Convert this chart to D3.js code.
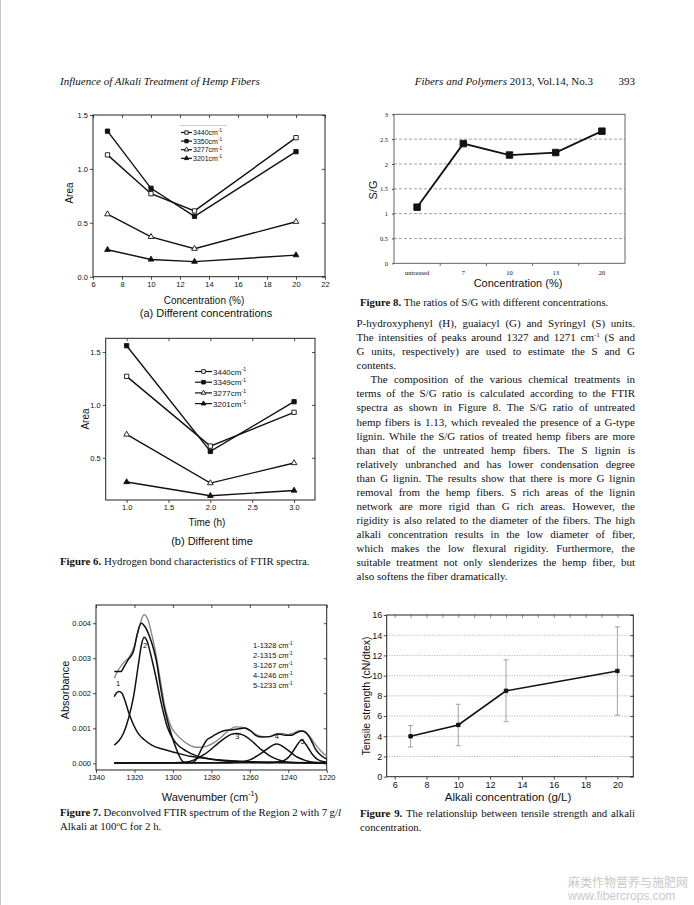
<!DOCTYPE html>
<html><head><meta charset="utf-8">
<script src="https://cdn.jsdelivr.net/npm/d3@7"></script>
<style>body{margin:0;background:#fff}svg{display:block}</style>
</head><body><svg id="page" width="694" height="905"></svg>
<script>
// ---------------- DATA ----------------
const fig6aConc = [7, 10, 13, 20];
const fig6aLegend = ["3440cm", "3350cm", "3277cm", "3201cm"];
const fig6a3440 = [1.13, 0.77, 0.61, 1.29];
const fig6a3350 = [1.35, 0.82, 0.56, 1.16];
const fig6a3277 = [0.58, 0.37, 0.26, 0.51];
const fig6a3201 = [0.25, 0.16, 0.14, 0.20];
const fig6aXTicks = [6, 8, 10, 12, 14, 16, 18, 20, 22];
const fig6aYTicks = [0.0, 0.5, 1.0, 1.5];

const fig6bTime = [1, 2, 3];
const fig6bLegend = ["3440cm", "3349cm", "3277cm", "3201cm"];
const fig6b3440 = [1.27, 0.61, 0.93];
const fig6b3349 = [1.56, 0.56, 1.03];
const fig6b3277 = [0.72, 0.26, 0.45];
const fig6b3201 = [0.27, 0.14, 0.19];
const fig6bXTicks = [1.0, 1.5, 2.0, 2.5, 3.0];
const fig6bYTicks = [0.5, 1.0, 1.5];

// Fig 7: [wavenumber, absorbance]
const fig7Fit = [[1330.5,0.00243],[1328,0.0027],[1325.5,0.00288],[1322.5,0.00305],[1320,0.00335],[1317.5,0.0039],[1315,0.00424],[1313,0.0041],[1311.5,0.0038],[1309.5,0.0033],[1308,0.00285],[1306,0.0022],[1304.5,0.0017],[1302.5,0.00128],[1300.5,0.001],[1298,0.00082],[1295,0.00066],[1292,0.00054],[1288,0.00046],[1285,0.00046],[1282,0.0005],[1279,0.00058],[1275,0.00074],[1271,0.00094],[1267.5,0.00104],[1264,0.00103],[1261,0.00096],[1258,0.00086],[1254,0.00077],[1250,0.00076],[1246.5,0.00084],[1243,0.00085],[1240,0.00082],[1237,0.00087],[1234,0.00093],[1231.5,0.0009],[1229,0.00078],[1226,0.00055],[1223,0.00035],[1220,0.0002]];
const fig7Spectrum = [[1330.5,0.00262],[1327,0.00262],[1325.5,0.00275],[1323,0.00298],[1320.5,0.0032],[1318.5,0.0037],[1316.5,0.004],[1314.5,0.0039],[1312,0.0036],[1310,0.00325],[1308.5,0.0029],[1306.5,0.0022],[1304.5,0.0016],[1302,0.00105],[1299.5,0.0006],[1297,0.00025],[1295,0.00006],[1293,0.00002],[1289.5,0.00003],[1287.5,0.00015],[1285,0.00042],[1282.5,0.00066],[1280,0.00075],[1277,0.00085],[1273.5,0.00093],[1269,0.00096],[1265.5,0.00099],[1262.5,0.00101],[1259.5,0.00093],[1257,0.0008],[1253.5,0.00075],[1249,0.00077],[1245,0.00084],[1241.5,0.0008],[1238.5,0.0008],[1235.5,0.00088],[1232.5,0.00092],[1230,0.00083],[1228,0.00065],[1226,0.00042],[1223.5,0.00025],[1220,0.00012]];
const fig7Peak1 = [[1330.5,0.0019],[1329.5,0.002],[1328,0.00205],[1326.5,0.002],[1325,0.0018],[1323,0.00145],[1320.5,0.0011],[1318,0.00085],[1315,0.00068],[1311,0.00052],[1305,0.0004],[1299,0.00031],[1291,0.0002],[1280,0.00012],[1265,0.00006],[1245,0.00003],[1220,0.00001]];
const fig7Peak2 = [[1330.5,0.00052],[1328,0.00065],[1325.7,0.00086],[1323,0.0013],[1320.5,0.0019],[1318,0.0028],[1316.3,0.0034],[1315,0.0036],[1313.5,0.0035],[1311.5,0.0031],[1309,0.0025],[1306,0.0017],[1303,0.00105],[1300,0.0007],[1297,0.0005],[1293,0.00035],[1288,0.00022],[1280,0.00012],[1270,0.00006],[1250,0.00002],[1220,0.00001]];
const fig7Peak3 = [[1330.5,0.00001],[1300,0.00002],[1293,0.00004],[1289,0.0001],[1285,0.00021],[1281,0.00036],[1277,0.00055],[1273,0.00072],[1270,0.00082],[1267,0.00085],[1264,0.00082],[1261,0.00073],[1258,0.00059],[1254,0.00039],[1250,0.00023],[1246,0.00012],[1241,0.00004],[1235,0.00002],[1220,0.00001]];
const fig7Peak4 = [[1330.5,0.00001],[1270,0.00002],[1264,0.00005],[1260,0.0001],[1256,0.00022],[1253,0.00033],[1250,0.00045],[1248,0.00052],[1246,0.00055],[1244,0.00052],[1242,0.00045],[1239,0.00033],[1236,0.0002],[1232,0.0001],[1228,0.00004],[1220,0.00001]];
const fig7Peak5 = [[1330.5,0.00001],[1250,0.00002],[1244,0.00005],[1241,0.00012],[1238.5,0.00026],[1236.5,0.00043],[1235,0.00055],[1233,0.00067],[1231,0.00055],[1229.5,0.00043],[1227.5,0.00026],[1225,0.00012],[1222,0.00005],[1220,0.00003]];
const fig7PeakLabels = [["1",1328.5,0.00222],["2",1314.5,0.0033],["3",1266.5,0.0007],["4",1246,0.00069],["5",1232.5,0.00056]];
const fig7Legend = ["1-1328 cm", "2-1315 cm", "3-1267 cm", "4-1246 cm", "5-1233 cm"];
const fig7XTicks = [1340, 1320, 1300, 1280, 1260, 1240, 1220];
const fig7YTicks = [0.000, 0.001, 0.002, 0.003, 0.004];

const fig8Categories = ["untreated", "7", "10", "13", "20"];
const fig8Ratio = [1.13, 2.41, 2.18, 2.23, 2.66];
const fig8YTicks = [0, 0.5, 1, 1.5, 2, 2.5, 3];

const fig9Conc = [7, 10, 13, 20];
const fig9Strength = [4.0, 5.12, 8.5, 10.46];
const fig9Error = [1.06, 2.05, 3.06, 4.37];
const fig9XTicks = [6, 8, 10, 12, 14, 16, 18, 20];
const fig9YTicks = [0, 2, 4, 6, 8, 10, 12, 14, 16];

const bodyLines = [
  "P-hydroxyphenyl (H), guaiacyl (G) and Syringyl (S) units.",
  "The intensities of peaks around 1327 and 1271 cm^{-1} (S and",
  "G units, respectively) are used to estimate the S and G",
  "contents.",
  "The composition of the various chemical treatments in",
  "terms of the S/G ratio is calculated according to the FTIR",
  "spectra as shown in Figure 8. The S/G ratio of untreated",
  "hemp fibers is 1.13, which revealed the presence of a G-type",
  "lignin. While the S/G ratios of treated hemp fibers are more",
  "than that of the untreated hemp fibers. The S lignin is",
  "relatively unbranched and has lower condensation degree",
  "than G lignin. The results show that there is more G lignin",
  "removal from the hemp fibers. S rich areas of the lignin",
  "network are more rigid than G rich areas. However, the",
  "rigidity is also related to the diameter of the fibers. The high",
  "alkali concentration results in the low diameter of fiber,",
  "which makes the low flexural rigidity. Furthermore, the",
  "suitable treatment not only slenderizes the hemp fiber, but",
  "also softens the fiber dramatically."
];
const bodyParaEnds = [3, 18];
const bodyIndent = [4];

// ---------------- HELPERS ----------------
const SANS = "'Liberation Sans', Arial, sans-serif";
const SERIF = "'Liberation Serif', 'Times New Roman', serif";
const svg = d3.select("#page");
svg.append("rect").attr("width", 694).attr("height", 905).attr("fill", "#fff");
svg.append("line").attr("x1", 0.5).attr("x2", 0.5).attr("y1", 0).attr("y2", 905).attr("stroke", "#c8c8c8");

function rich(sel, str, fs) {
  const re = /(\^\{[^}]*\}|\*\*[^*]*\*\*|_[^_]*_)/g;
  const parts = str.split(re).filter(s => s !== "");
  let raised = false;
  parts.forEach(p => {
    const t = sel.append("tspan");
    if (p.startsWith("^{")) {
      t.text(p.slice(2, -1)).attr("font-size", fs * 0.65).attr("dy", -fs * 0.38);
      raised = true;
    } else {
      let txt = p;
      if (p.startsWith("**")) { txt = p.slice(2, -2); t.attr("font-weight", "bold"); }
      else if (p.startsWith("_")) { txt = p.slice(1, -1); t.attr("font-style", "italic"); }
      t.text(txt);
      if (raised) { t.attr("dy", fs * 0.38); raised = false; }
    }
  });
  return sel;
}
function textLine(g, x, y, str, fs, family, opts = {}) {
  const t = g.append("text").attr("x", x).attr("y", y).attr("font-size", fs)
    .attr("font-family", family).attr("fill", opts.fill || "#111")
    .attr("text-anchor", opts.anchor || "start");
  if (opts.italic) t.attr("font-style", "italic");
  if (opts.rotate) t.attr("transform", `rotate(-90,${x},${y})`);
  rich(t, str, fs);
  if (opts.justify) {
    const w = t.node().getComputedTextLength();
    const target = opts.justify - x;
    const spaces = (str.replace(/\^\{[^}]*\}/g, "").match(/ /g) || []).length;
    if (spaces > 0) {
      t.attr("word-spacing", (target - w) / spaces);
      const w2 = t.node().getComputedTextLength();
      if (Math.abs(w2 - target) > 2) { t.attr("word-spacing", null).attr("textLength", target).attr("lengthAdjust", "spacing"); }
    }
  }
  return t;
}
function marker(g, type, x, y, s) {
  const tri = !type.startsWith("sq");
  const sym = tri ? d3.symbolTriangle : d3.symbolSquare;
  const filled = type.endsWith("F");
  g.append("path").attr("d", d3.symbol(sym, tri ? s * s * 0.45 : s * s)())
    .attr("transform", `translate(${x},${y})`)
    .attr("fill", filled ? "#111" : "#fff").attr("stroke", "#111").attr("stroke-width", 0.9);
}
function styleAxis(sel, fs, family) {
  sel.select(".domain").remove();
  sel.selectAll(".tick line").attr("stroke", "#222").attr("stroke-width", 0.8);
  sel.selectAll(".tick text").attr("font-size", fs).attr("font-family", family).attr("fill", "#111");
}
function originFrame(g, x, y, xt, yt, xf, yf, fs) {
  const [xl, xr] = x.range(), [yb, yt0] = y.range();
  const ax = g.append("g").attr("transform", `translate(0,${yb})`)
    .call(d3.axisBottom(x).tickValues(xt).tickFormat(xf).tickSize(3).tickSizeOuter(0).tickPadding(1.5));
  styleAxis(ax, fs, SANS);
  const ay = g.append("g").attr("transform", `translate(${xl},0)`)
    .call(d3.axisLeft(y).tickValues(yt).tickFormat(yf).tickSize(3).tickSizeOuter(0).tickPadding(2));
  styleAxis(ay, fs, SANS);
  const at = g.append("g").attr("transform", `translate(0,${yt0})`)
    .call(d3.axisTop(x).tickValues(xt).tickFormat("").tickSize(-3).tickSizeOuter(0));
  styleAxis(at, fs, SANS);
  const ar = g.append("g").attr("transform", `translate(${xr},0)`)
    .call(d3.axisRight(y).tickValues(yt).tickFormat("").tickSize(-3).tickSizeOuter(0));
  styleAxis(ar, fs, SANS);
  g.append("rect").attr("x", xl).attr("y", yt0).attr("width", xr - xl).attr("height", yb - yt0)
    .attr("fill", "none").attr("stroke", "#222").attr("stroke-width", 1);
}

// ---------------- HEADER ----------------
textLine(svg, 60, 85, "Influence of Alkali Treatment of Hemp Fibers", 11, SERIF, { italic: true });
textLine(svg, 593, 85, "_Fibers and Polymers_ 2013, Vol.14, No.3", 11, SERIF, { anchor: "end" });
textLine(svg, 635, 85, "393", 11, SERIF, { anchor: "end" });

// ---------------- FIG 6a ----------------
(function () {
  const g = svg.append("g");
  const x = d3.scaleLinear([6, 22], [93, 325]);
  const y = d3.scaleLinear([0, 1.5], [276.7, 115]);
  originFrame(g, x, y, fig6aXTicks, fig6aYTicks, d3.format("d"), d3.format(".1f"), 7.5);
  const series = [[fig6a3440, "sqO"], [fig6a3350, "sqF"], [fig6a3277, "trO"], [fig6a3201, "trF"]];
  const line = d3.line().x((d, i) => x(fig6aConc[i])).y(d => y(d));
  series.forEach(([vals, m]) => {
    g.append("path").attr("d", line(vals)).attr("fill", "none").attr("stroke", "#111").attr("stroke-width", 1.4);
    vals.forEach((v, i) => marker(g, m, x(fig6aConc[i]), y(v), m.startsWith("sq") ? 4.3 : 5.6));
  });
  g.append("line").attr("x1", 180).attr("x2", 227).attr("y1", 125.5).attr("y2", 125.5).attr("stroke", "#ccc");
  fig6aLegend.forEach((lab, i) => {
    const yy = 132.5 + i * 8.6;
    g.append("line").attr("x1", 181).attr("x2", 192).attr("y1", yy).attr("y2", yy).attr("stroke", "#111").attr("stroke-width", 1.2);
    marker(g, series[i][1], 186.5, yy, series[i][1].startsWith("sq") ? 3.4 : 4.4);
    textLine(g, 193, yy + 2.5, lab + "^{-1}", 7, SANS);
  });
  textLine(g, 73, 193, "Area", 10, SANS, { anchor: "middle", rotate: true });
  textLine(g, 204, 303.5, "Concentration (%)", 10, SANS, { anchor: "middle" });
  textLine(g, 206, 316.5, "(a) Different concentrations", 11, SANS, { anchor: "middle" });
})();

// ---------------- FIG 6b ----------------
(function () {
  const g = svg.append("g");
  const x = d3.scaleLinear([0.75, 3.25], [105.7, 315]);
  const y = d3.scaleLinear([0.1, 1.63], [500, 338.3]);
  originFrame(g, x, y, fig6bXTicks, fig6bYTicks, d3.format(".1f"), d3.format(".1f"), 7.5);
  const series = [[fig6b3440, "sqO"], [fig6b3349, "sqF"], [fig6b3277, "trO"], [fig6b3201, "trF"]];
  const line = d3.line().x((d, i) => x(fig6bTime[i])).y(d => y(d));
  series.forEach(([vals, m]) => {
    g.append("path").attr("d", line(vals)).attr("fill", "none").attr("stroke", "#111").attr("stroke-width", 1.4);
    vals.forEach((v, i) => marker(g, m, x(fig6bTime[i]), y(v), m.startsWith("sq") ? 4.3 : 5.6));
  });
  fig6bLegend.forEach((lab, i) => {
    const yy = 371.5 + i * 10.7;
    g.append("line").attr("x1", 195).attr("x2", 212).attr("y1", yy).attr("y2", yy).attr("stroke", "#111").attr("stroke-width", 1.2);
    marker(g, series[i][1], 203.5, yy, series[i][1].startsWith("sq") ? 3.6 : 4.6);
    textLine(g, 213, yy + 3, lab + "^{-1}", 8, SANS);
  });
  textLine(g, 89, 419, "Area", 10, SANS, { anchor: "middle", rotate: true });
  textLine(g, 207, 526, "Time (h)", 10, SANS, { anchor: "middle" });
  textLine(g, 212, 545, "(b) Different time", 11, SANS, { anchor: "middle" });
  textLine(g, 60, 564.5, "**Figure 6.** Hydrogen bond characteristics of FTIR spectra.", 10.8, SERIF);
})();

// ---------------- FIG 7 ----------------
(function () {
  const g = svg.append("g");
  const x = d3.scaleLinear([1340, 1220], [96, 326.7]);
  const y = d3.scaleLinear([-0.00019, 0.00452], [770, 605]);
  originFrame(g, x, y, fig7XTicks, fig7YTicks, d3.format("d"), d3.format(".3f"), 7.5);
  const line = d3.line().x(d => x(d[0])).y(d => y(d[1])).curve(d3.curveMonotoneX);
  [fig7Peak1, fig7Peak2, fig7Peak3, fig7Peak4, fig7Peak5].forEach(p =>
    g.append("path").attr("d", line(p)).attr("fill", "none").attr("stroke", "#111").attr("stroke-width", 1.5));
  g.append("path").attr("d", line(fig7Fit)).attr("fill", "none").attr("stroke", "#8a8a8a").attr("stroke-width", 1.4);
  g.append("path").attr("d", line(fig7Spectrum)).attr("fill", "none").attr("stroke", "#111").attr("stroke-width", 1.5);
  fig7PeakLabels.forEach(([t, w, a]) => textLine(g, x(w), y(a), t, 7.5, SANS, { anchor: "middle" }));
  fig7Legend.forEach((t, i) => textLine(g, 253, 647.5 + i * 10.2, t + "^{-1}", 7.5, SANS));
  textLine(g, 69, 690, "Absorbance", 11, SANS, { anchor: "middle", rotate: true });
  textLine(g, 210, 800.5, "Wavenumber (cm^{-1})", 11, SANS, { anchor: "middle" });
  textLine(g, 60, 816, "**Figure 7.** Deconvolved FTIR spectrum of the Region 2 with 7 g/_l_", 10.8, SERIF, { justify: 341 });
  textLine(g, 60, 830, "Alkali at 100^{o}C for 2 h.", 10.8, SERIF);
})();

// ---------------- FIG 8 ----------------
(function () {
  const g = svg.append("g");
  const x = d3.scaleBand(fig8Categories, [394, 625]);
  const y = d3.scaleLinear([0, 3], [263.3, 114.3]);
  fig8YTicks.filter(v => v > 0 && v < 3).forEach(v =>
    g.append("line").attr("x1", 394).attr("x2", 625).attr("y1", y(v)).attr("y2", y(v))
      .attr("stroke", "#888").attr("stroke-width", 0.8).attr("stroke-dasharray", "3,2"));
  g.append("rect").attr("x", 394).attr("y", 114.3).attr("width", 231).attr("height", 149)
    .attr("fill", "none").attr("stroke", "#555").attr("stroke-width", 0.9);
  const ay = g.append("g").attr("transform", "translate(394,0)")
    .call(d3.axisLeft(y).tickValues(fig8YTicks).tickFormat(d3.format("")).tickSize(2).tickPadding(4));
  styleAxis(ay, 6.5, SERIF);
  const ax = g.append("g").attr("transform", "translate(0,263.3)")
    .call(d3.axisBottom(x).tickSize(0).tickPadding(7));
  styleAxis(ax, 6.5, SERIF);
  fig8Categories.forEach((c, i) => {
    if (i === 0) return;
    const xx = x(c);
    g.append("line").attr("x1", xx).attr("x2", xx).attr("y1", 263.3).attr("y2", 266).attr("stroke", "#444").attr("stroke-width", 0.8);
  });
  const line = d3.line().x((d, i) => x(fig8Categories[i]) + x.bandwidth() / 2).y(d => y(d));
  g.append("path").attr("d", line(fig8Ratio)).attr("fill", "none").attr("stroke", "#111").attr("stroke-width", 1.8);
  fig8Ratio.forEach((v, i) => marker(g, "sqF", x(fig8Categories[i]) + x.bandwidth() / 2, y(v), 6.5));
  textLine(g, 377, 190, "S/G", 11, SANS, { anchor: "middle", rotate: true });
  textLine(g, 518, 287, "Concentration (%)", 11, SANS, { anchor: "middle" });
  textLine(g, 360, 305.5, "**Figure 8.** The ratios of S/G with different concentrations.", 10.8, SERIF);
})();

// ---------------- BODY TEXT ----------------
(function () {
  const g = svg.append("g");
  bodyLines.forEach((s, i) => {
    const x0 = bodyIndent.includes(i) ? 370.5 : 356.5;
    const opts = bodyParaEnds.includes(i) ? {} : { justify: 635 };
    textLine(g, x0, 327 + i * 14.08, s, 11, SERIF, opts);
  });
})();

// ---------------- FIG 9 ----------------
(function () {
  const g = svg.append("g");
  const x = d3.scaleLinear([5.5, 21], [386.7, 633.3]);
  const y = d3.scaleLinear([0, 16], [776.7, 615]);
  fig9YTicks.filter(v => v > 0 && v < 16).forEach(v =>
    g.append("line").attr("x1", 386.7).attr("x2", 633.3).attr("y1", y(v)).attr("y2", y(v))
      .attr("stroke", "#999").attr("stroke-width", 0.8).attr("stroke-dasharray", "1,1.5"));
  const minor = d3.range(6, 21, 1);
  const at = g.append("g").attr("transform", "translate(0,615)")
    .call(d3.axisTop(x).tickValues(minor).tickFormat("").tickSize(-3).tickSizeOuter(0));
  styleAxis(at, 8, SANS);
  at.selectAll(".tick line").attr("stroke", "#777");
  const ar = g.append("g").attr("transform", "translate(633.3,0)")
    .call(d3.axisRight(y).tickValues(fig9YTicks).tickFormat("").tickSize(-3).tickSizeOuter(0));
  styleAxis(ar, 8, SANS);
  const ax = g.append("g").attr("transform", "translate(0,776.7)")
    .call(d3.axisBottom(x).tickValues(fig9XTicks).tickFormat(d3.format("d")).tickSize(3).tickSizeOuter(0).tickPadding(1.5));
  styleAxis(ax, 9, SANS);
  const ay = g.append("g").attr("transform", "translate(386.7,0)")
    .call(d3.axisLeft(y).tickValues(fig9YTicks).tickFormat(d3.format("d")).tickSize(3).tickSizeOuter(0).tickPadding(1.5));
  styleAxis(ay, 9, SANS);
  g.append("rect").attr("x", 386.7).attr("y", 615).attr("width", 246.6).attr("height", 161.7)
    .attr("fill", "none").attr("stroke", "#222").attr("stroke-width", 1);
  fig9Conc.forEach((c, i) => {
    const xx = x(c), lo = y(fig9Strength[i] - fig9Error[i]), hi = y(fig9Strength[i] + fig9Error[i]);
    g.append("line").attr("x1", xx).attr("x2", xx).attr("y1", lo).attr("y2", hi).attr("stroke", "#999").attr("stroke-width", 0.9);
    [lo, hi].forEach(yy => g.append("line").attr("x1", xx - 2.5).attr("x2", xx + 2.5).attr("y1", yy).attr("y2", yy).attr("stroke", "#999").attr("stroke-width", 0.9));
  });
  const line = d3.line().x((d, i) => x(fig9Conc[i])).y(d => y(d));
  g.append("path").attr("d", line(fig9Strength)).attr("fill", "none").attr("stroke", "#111").attr("stroke-width", 1.6);
  fig9Strength.forEach((v, i) => marker(g, "sqF", x(fig9Conc[i]), y(v), 3.5));
  textLine(g, 370, 696, "Tensile strength (cN/dtex)", 10.5, SANS, { anchor: "middle", rotate: true });
  textLine(g, 508, 800.5, "Alkali concentration (g/L)", 11.5, SANS, { anchor: "middle" });
  textLine(g, 360, 816.5, "**Figure 9.** The relationship between tensile strength and alkali", 10.8, SERIF, { justify: 635 });
  textLine(g, 360, 830.5, "concentration.", 10.8, SERIF);
})();

// ---------------- WATERMARK ----------------
textLine(svg, 568, 887, "麻类作物营养与施肥网", 12, "'Noto Sans CJK SC', sans-serif", { fill: "#c9c9c9" });
textLine(svg, 568, 900, "www.fibercrops.com", 12, SANS, { fill: "#c9c9c9" });
</script></body></html>
